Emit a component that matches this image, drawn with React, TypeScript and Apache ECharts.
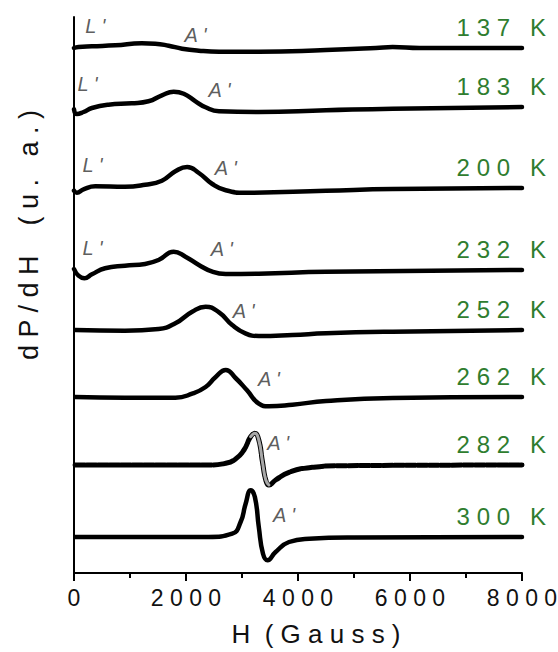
import React, { useEffect, useRef } from "react";
import * as echarts from "echarts";

// ---- data (H in Gauss, signal in arbitrary units relative to each trace's baseline) ----
const temps = ["137", "183", "200", "232", "252", "262", "282", "300"];
const offsets = [525, 466, 385, 303, 243, 176, 108, 36];

const H137 = [0, 80, 320, 740, 1210, 1450, 1690, 1930, 2230, 2590, 3300, 4500, 5390, 5690, 6170, 8000];
const S137 = [0, 1, 1.7, 2.7, 4.7, 4.3, 2.3, -0.7, -2.7, -3.7, -3.7, -2, 0, 1, 0, 0];

const H183 = [0, 50, 170, 320, 615, 1030, 1330, 1570, 1780, 1960, 2170, 2350, 2590, 3300, 4500, 5690, 8000];
const S183 = [-2.3, -7, -5, -1, 2.3, 3.7, 5.7, 11.7, 15.3, 13.3, 5.7, -0.3, -4.3, -5, -3.3, -1.7, 0];

const H200 = [0, 50, 170, 380, 910, 1270, 1570, 1810, 2020, 2230, 2470, 2710, 3060, 4500, 5690, 8000];
const S200 = [-2.7, -4.7, -1.3, 1.7, 1.3, 3.3, 7.3, 16.7, 21, 15, 4, -2.3, -4.7, -2.7, -1, 0];

const H232 = [0, 80, 185, 320, 555, 910, 1270, 1510, 1780, 1990, 2230, 2470, 2710, 3300, 4500, 8000];
const S232 = [1, -5.7, -8.3, -4.3, 1.7, 4.3, 6, 10, 18.3, 13.3, 5, -1.7, -4, -3.7, -1.7, 0];

const H252 = [20, 910, 1510, 1810, 2110, 2350, 2590, 2825, 3060, 3300, 3900, 4500, 5690, 8000];
const S252 = [0, -0.7, 1, 6.7, 18.3, 23.3, 17.7, 5, -3.3, -6, -5, -3.3, -1.7, 0];

const H262 = [20, 910, 1810, 2110, 2350, 2530, 2710, 2885, 3090, 3300, 3480, 3900, 4500, 5690, 8000];
const S262 = [0, -0.7, -0.7, 3.3, 10, 20, 27, 19, 6.7, -6.7, -9.3, -7.7, -4, -1, 0];

const H282 = [20, 2410, 2710, 2885, 3035, 3155, 3230, 3300, 3365, 3425, 3480, 3600, 3840, 4200, 4800, 8000];
const S282 = [0, 0, 1.7, 6, 15, 28.3, 31.7, 25, 3.3, -15, -20, -15, -7.3, -2.7, -0.7, 0];

const H300 = [20, 2400, 2825, 2975, 3065, 3155, 3230, 3300, 3375, 3455, 3600, 3840, 4200, 5000, 8000];
const S300 = [0, 0, 3.3, 15, 33.3, 46.7, 40, 10, -16.7, -23.3, -15, -5, -1.7, -0.5, 0];

const traceH = [H137, H183, H200, H232, H252, H262, H282, H300];
const traceS = [S137, S183, S200, S232, S252, S262, S282, S300];

// annotation labels (L', A') in data coordinates
const annotText = ["L '", "A '", "L '", "A '", "L '", "A '", "L '", "A '", "A '", "A '", "A '", "A '"];
const annotH = [380, 2170, 240, 2600, 330, 2710, 330, 2640, 3030, 3480, 3645, 3750];
const annotV = [547, 538, 489, 483, 408, 405, 325, 324, 262, 194, 130, 58];

const xTicks = { min: 0, max: 8000, interval: 2000 };

const FONT = "'Liberation Sans', Arial, Helvetica, sans-serif";
const GREEN = "#2f7d2f";

const spaced = (s: string) => s.split("").join(" ");

export default function App() {
  const ref = useRef<HTMLDivElement>(null);
  useEffect(() => {
    if (!ref.current) return;
    const chart = echarts.init(ref.current, undefined, { renderer: "svg" });

    const series: any[] = [];
    traceH.forEach((hs, k) => {
      const data = hs.map((h, i) => [h, offsets[k] + traceS[k][i]]);
      const is282 = temps[k] === "282";
      series.push({
        type: "line",
        name: temps[k] + " K",
        data,
        smooth: 0.5,
        symbol: "none",
        clip: false,
        z: 3,
        lineStyle: {
          color: "#000",
          width: is282 ? 5 : 4.5,
          type: is282 ? [10, 1.5] : "solid",
          cap: "round",
          join: "round",
        },
        endLabel: {
          show: true,
          formatter: () => spaced(temps[k]) + "   K",
          align: "right",
          verticalAlign: "middle",
          offset: [16, -21],
          color: GREEN,
          fontFamily: FONT,
          fontSize: 24,
        },
      });
      if (is282) {
        const sub = data.filter((d) => d[0] >= 3100 && d[0] <= 3560);
        series.push({
          type: "line",
          data: sub,
          smooth: 0.5,
          symbol: "none",
          clip: false,
          z: 4,
          lineStyle: { color: "#a8a8a8", width: 3, cap: "round" },
        });
      }
    });

    series.push({
      type: "scatter",
      symbolSize: 0,
      z: 5,
      data: annotH.map((h, i) => ({ value: [h, annotV[i]], name: annotText[i] })),
      label: {
        show: true,
        position: "inside",
        formatter: (p: any) => p.name,
        color: "#333",
        fontStyle: "italic",
        fontFamily: FONT,
        fontSize: 20,
      },
    });

    chart.setOption({
      animation: false,
      backgroundColor: "#fff",
      grid: { left: 74, right: 36, top: 17, bottom: 79, outerBoundsMode: "none", containLabel: false },
      xAxis: {
        type: "value",
        min: xTicks.min,
        max: xTicks.max,
        interval: xTicks.interval,
        name: "H  ( G a u s s )",
        nameLocation: "middle",
        nameGap: 48,
        nameTextStyle: {
          fontFamily: FONT,
          fontSize: 26,
          color: "#111",
          padding: [0, 0, 0, 36],
        },
        axisLine: { show: true, onZero: false, lineStyle: { color: "#000", width: 2 } },
        axisTick: { show: true, length: 8, lineStyle: { color: "#000", width: 2 } },
        minorTick: { show: true, splitNumber: 2, length: 5, lineStyle: { color: "#000", width: 2 } },
        splitLine: { show: false },
        axisLabel: {
          fontFamily: FONT,
          fontSize: 23,
          color: "#111",
          margin: 13,
          formatter: (v: number) => spaced(String(v)),
        },
      },
      yAxis: {
        type: "value",
        min: 0,
        max: 556,
        name: "d P / d H    ( u .   a . )",
        nameLocation: "middle",
        nameGap: 32,
        nameTextStyle: {
          fontFamily: FONT,
          fontSize: 27,
          color: "#111",
          padding: [0, 0, 0, 120],
        },
        axisLine: { show: true, onZero: false, lineStyle: { color: "#000", width: 2 } },
        axisTick: { show: false },
        axisLabel: { show: false },
        splitLine: { show: false },
      },
      series,
    });
    return () => chart.dispose();
  }, []);
  return <div ref={ref} style={{ width: 558, height: 652, position: "absolute", left: 0, top: 0 }} />;
}
